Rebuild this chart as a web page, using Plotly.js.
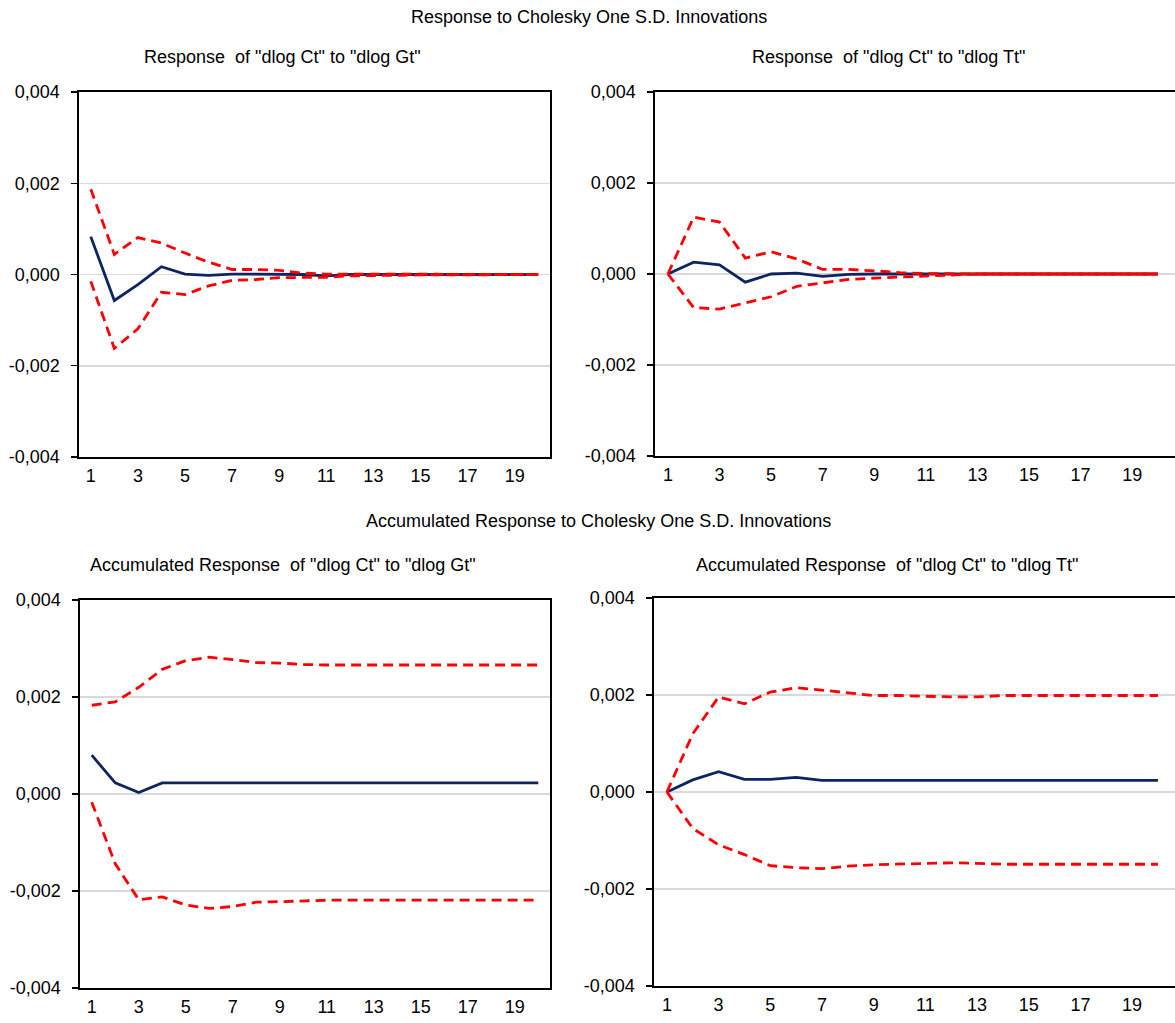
<!DOCTYPE html>
<html>
<head>
<meta charset="utf-8">
<script src="https://cdn.plot.ly/plotly-3.0.1.min.js"></script>
<style>
  html, body { margin: 0; padding: 0; background: #fff; }
  #chart { width: 1175px; height: 1023px; }
</style>
</head>
<body>
<div id="chart"></div>
<script>
// ---- data ----
const steps = [1,2,3,4,5,6,7,8,9,10,11,12,13,14,15,16,17,18,19,20];
const xTickVals = [1,3,5,7,9,11,13,15,17,19];
const yTickVals = [-0.004,-0.002,0,0.002,0.004];
const yTickText = ['-0,004','-0,002','0,000','0,002','0,004'];

// Response of "dlog Ct" to "dlog Gt"
const gIrf   = [0.00083,-0.00057,-0.00022,0.00017,0.00001,-0.00002,0.00001,0.00001,0.00001,0.00000,-0.00003,0.00000,0.00000,0.00000,0.00000,0.00000,0.00000,0.00000,0.00000,0.00000];
const gIrfUp = [0.00187,0.00044,0.00081,0.00069,0.00047,0.00027,0.00011,0.00011,0.00009,0.00003,0.00001,0.00001,0.00001,0.00001,0.00001,0.00001,0.00000,0.00000,0.00000,0.00000];
const gIrfLo = [-0.00015,-0.00162,-0.00119,-0.00039,-0.00044,-0.00025,-0.00013,-0.00011,-0.00007,-0.00006,-0.00006,-0.00003,-0.00002,-0.00002,-0.00001,-0.00001,-0.00001,0.00000,0.00000,0.00000];

// Response of "dlog Ct" to "dlog Tt"
const tIrf   = [0.00000,0.00026,0.00020,-0.00018,0.00000,0.00002,-0.00005,-0.00001,0.00000,0.00000,0.00000,0.00000,0.00000,0.00000,0.00000,0.00000,0.00000,0.00000,0.00000,0.00000];
const tIrfUp = [0.00000,0.00125,0.00114,0.00035,0.00049,0.00033,0.00010,0.00010,0.00007,0.00003,0.00001,0.00000,0.00000,0.00000,0.00000,0.00000,0.00000,0.00000,0.00000,0.00000];
const tIrfLo = [0.00000,-0.00074,-0.00077,-0.00064,-0.00050,-0.00027,-0.00020,-0.00012,-0.00009,-0.00007,-0.00004,-0.00002,0.00000,0.00000,0.00000,0.00000,0.00000,0.00000,0.00000,0.00000];

// Accumulated Response of "dlog Ct" to "dlog Gt"
const gAcc   = [0.00080,0.00023,0.00003,0.00023,0.00023,0.00023,0.00023,0.00023,0.00023,0.00023,0.00023,0.00023,0.00023,0.00023,0.00023,0.00023,0.00023,0.00023,0.00023,0.00023];
const gAccUp = [0.00183,0.00190,0.00220,0.00257,0.00275,0.00282,0.00277,0.00271,0.00270,0.00267,0.00266,0.00266,0.00266,0.00266,0.00266,0.00266,0.00266,0.00266,0.00266,0.00266];
const gAccLo = [-0.00017,-0.00144,-0.00218,-0.00212,-0.00229,-0.00236,-0.00232,-0.00223,-0.00222,-0.00220,-0.00219,-0.00219,-0.00219,-0.00219,-0.00219,-0.00219,-0.00219,-0.00219,-0.00219,-0.00219];

// Accumulated Response of "dlog Ct" to "dlog Tt"
const tAcc   = [0.00000,0.00025,0.00042,0.00026,0.00026,0.00030,0.00024,0.00024,0.00024,0.00024,0.00024,0.00024,0.00024,0.00024,0.00024,0.00024,0.00024,0.00024,0.00024,0.00024];
const tAccUp = [0.00000,0.00120,0.00196,0.00182,0.00206,0.00215,0.00210,0.00204,0.00199,0.00199,0.00197,0.00196,0.00196,0.00199,0.00199,0.00199,0.00199,0.00199,0.00199,0.00199];
const tAccLo = [0.00000,-0.00075,-0.00109,-0.00129,-0.00152,-0.00156,-0.00158,-0.00153,-0.00150,-0.00149,-0.00147,-0.00146,-0.00147,-0.00149,-0.00149,-0.00149,-0.00149,-0.00149,-0.00149,-0.00149];

const topTitle = 'Response to Cholesky One S.D. Innovations';
const bottomTitle = 'Accumulated Response to Cholesky One S.D. Innovations';
const panelTitles = [
  'Response  of "dlog Ct" to "dlog Gt"',
  'Response  of "dlog Ct" to "dlog Tt"',
  'Accumulated Response  of "dlog Ct" to "dlog Gt"',
  'Accumulated Response  of "dlog Ct" to "dlog Tt"'
];

// ---- layout ----
const W = 1175, H = 1023;
const FONT = 'Liberation Sans, Arial, sans-serif';
const BLUE = '#0c2461';
const RED = '#ff0000';

// panel boxes in pixels: [left, right, top, bottom]
const boxes = [
  [79, 550, 92, 457],
  [655, 1175, 92, 456],
  [80, 550, 600, 988],
  [654, 1175, 598, 986]
];
const xRanges = [[0.5,20.5],[0.5,20.66],[0.5,20.5],[0.5,20.66]];
const titleCenters = [[282, 57],[888, 57],[283, 565],[887, 565]];

const series = [
  [gIrf, gIrfUp, gIrfLo],
  [tIrf, tIrfUp, tIrfLo],
  [gAcc, gAccUp, gAccLo],
  [tAcc, tAccUp, tAccLo]
];

const traces = [];
const layout = {
  width: W, height: H,
  margin: {l: 0, r: 0, t: 0, b: 0},
  paper_bgcolor: '#fff',
  plot_bgcolor: '#fff',
  showlegend: false,
  font: {family: FONT, size: 18, color: '#000'},
  annotations: []
};

series.forEach((s, i) => {
  const n = i + 1;
  const xa = n === 1 ? 'x' : 'x' + n;
  const ya = n === 1 ? 'y' : 'y' + n;
  traces.push({x: steps, y: s[0], xaxis: xa, yaxis: ya, type: 'scatter', mode: 'lines',
               line: {color: BLUE, width: 2.8}, hoverinfo: 'skip'});
  traces.push({x: steps, y: s[1], xaxis: xa, yaxis: ya, type: 'scatter', mode: 'lines',
               line: {color: RED, width: 2.8, dash: '10px,6px'}, hoverinfo: 'skip'});
  traces.push({x: steps, y: s[2], xaxis: xa, yaxis: ya, type: 'scatter', mode: 'lines',
               line: {color: RED, width: 2.8, dash: '10px,6px'}, hoverinfo: 'skip'});

  const b = boxes[i];
  layout['xaxis' + (n === 1 ? '' : n)] = {
    domain: [b[0] / W, b[1] / W],
    anchor: ya,
    range: xRanges[i],
    tickmode: 'array', tickvals: xTickVals,
    ticks: '', showgrid: false, zeroline: false,
    showline: true, linecolor: '#000', linewidth: 1.6, mirror: true,
    ticklabelstandoff: 2,
    tickfont: {family: FONT, size: 18, color: '#000'},
    fixedrange: true
  };
  layout['yaxis' + (n === 1 ? '' : n)] = {
    domain: [1 - b[3] / H, 1 - b[2] / H],
    anchor: xa,
    range: [-0.004, 0.004],
    tickmode: 'array', tickvals: yTickVals, ticktext: yTickText,
    ticks: 'outside', ticklen: 6, tickcolor: '#000', tickwidth: 1.4,
    showgrid: true, gridcolor: '#d9d9d9', gridwidth: 1.5,
    zeroline: false,
    showline: true, linecolor: '#000', linewidth: 1.6, mirror: true,
    ticklabelstandoff: 8,
    tickfont: {family: FONT, size: 18, color: '#000'},
    fixedrange: true
  };

  layout.annotations.push({
    text: panelTitles[i], xref: 'paper', yref: 'paper',
    x: titleCenters[i][0] / W, y: 1 - titleCenters[i][1] / H,
    xanchor: 'center', yanchor: 'middle', showarrow: false,
    font: {family: FONT, size: 18, color: '#000'}
  });
});

layout.annotations.push({
  text: topTitle, xref: 'paper', yref: 'paper',
  x: 589 / W, y: 1 - 17 / H, xanchor: 'center', yanchor: 'middle', showarrow: false,
  font: {family: FONT, size: 18, color: '#000'}
});
layout.annotations.push({
  text: bottomTitle, xref: 'paper', yref: 'paper',
  x: 598 / W, y: 1 - 521 / H, xanchor: 'center', yanchor: 'middle', showarrow: false,
  font: {family: FONT, size: 18, color: '#000'}
});

Plotly.newPlot('chart', traces, layout, {displayModeBar: false, staticPlot: true});
</script>
</body>
</html>
